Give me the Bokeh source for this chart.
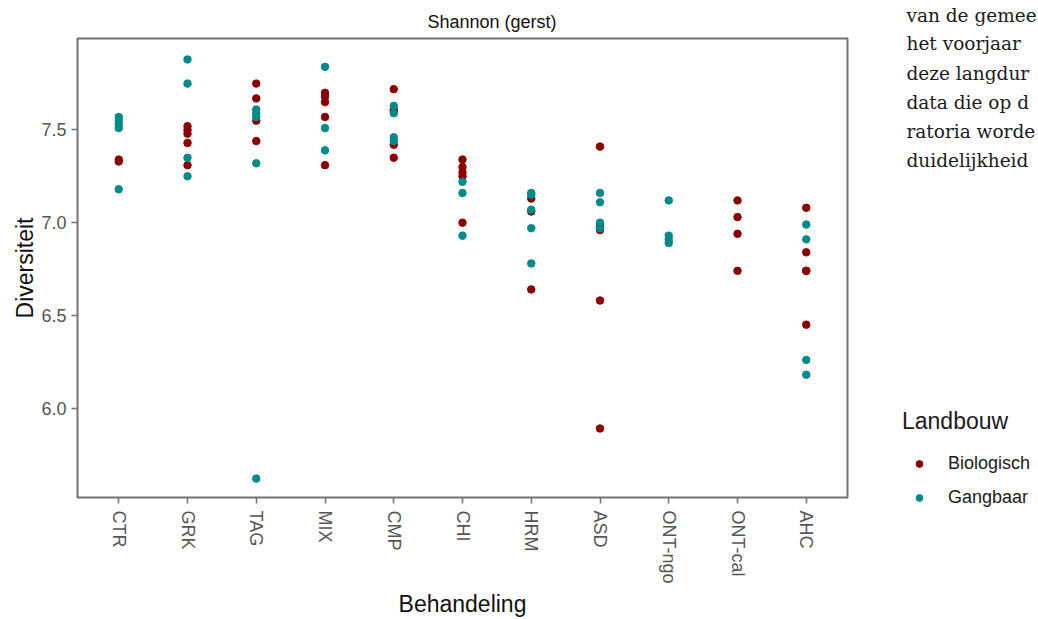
import math
from bokeh.plotting import figure
from bokeh.layouts import row
from bokeh.models import (FactorRange, Range1d, FixedTicker, Legend, LegendItem,
                          Label, CustomJSTickFormatter)
from bokeh.embed import file_html
from bokeh.resources import INLINE

# ---------------- data ----------------
categories = ["CTR", "GRK", "TAG", "MIX", "CMP", "CHI", "HRM", "ASD",
              "ONT-ngo", "ONT-cal", "AHC"]

bio_cat = (["CTR"] * 2 + ["GRK"] * 5 + ["TAG"] * 4 + ["MIX"] * 5 + ["CMP"] * 5 +
           ["CHI"] * 5 + ["HRM"] * 3 + ["ASD"] * 5 + ["ONT-cal"] * 4 + ["AHC"] * 5)
bio_val = [7.34, 7.33,
           7.52, 7.50, 7.48, 7.43, 7.31,
           7.75, 7.67, 7.55, 7.44,
           7.70, 7.68, 7.65, 7.57, 7.31,
           7.72, 7.61, 7.60, 7.42, 7.35,
           7.34, 7.30, 7.27, 7.25, 7.00,
           7.13, 7.06, 6.64,
           7.41, 6.98, 6.96, 6.58, 5.89,
           7.12, 7.03, 6.94, 6.74,
           7.08, 6.84, 6.74, 6.45, 6.74]

gang_cat = (["CTR"] * 5 + ["GRK"] * 4 + ["TAG"] * 5 + ["MIX"] * 3 + ["CMP"] * 4 +
            ["CHI"] * 3 + ["HRM"] * 5 + ["ASD"] * 4 + ["ONT-ngo"] * 4 + ["AHC"] * 4)
gang_val = [7.57, 7.55, 7.53, 7.51, 7.18,
            7.88, 7.75, 7.35, 7.25,
            7.61, 7.59, 7.57, 7.32, 5.62,
            7.84, 7.51, 7.39,
            7.63, 7.59, 7.46, 7.44,
            7.22, 7.16, 6.93,
            7.16, 7.15, 7.07, 6.97, 6.78,
            7.16, 7.11, 7.00, 6.97,
            7.12, 6.93, 6.91, 6.89,
            6.99, 6.91, 6.26, 6.18]

y_ticks = [6.0, 6.5, 7.0, 7.5]
series_names = ["Biologisch", "Gangbaar"]
series_colors = ["#8B0000", "#008B8B"]
legend_title = "Landbouw"

side_text = ["van de gemee", "het voorjaar", "deze langdur",
             "data die op d", "ratoria worde", "duidelijkheid"]

# ---------------- main figure ----------------
FONT = "Liberation Sans"
H = 619

p = figure(x_range=FactorRange(factors=categories, range_padding=0.1,
                               range_padding_units="absolute"),
           y_range=Range1d(5.518, 7.993),
           width=857, height=H, output_backend="svg", toolbar_location=None,
           min_border_left=77, min_border_right=10, min_border_top=38,
           min_border_bottom=H - 500)
p.frame_align = False

p.background_fill_color = "white"
p.border_fill_color = "white"
p.outline_line_color = "#737373"
p.outline_line_width = 2
p.xgrid.visible = False
p.ygrid.visible = False

p.title.text = "Shannon (gerst)"
p.title.align = "left"
p.title.offset = 350
p.title.text_font = FONT
p.title.text_font_size = "18px"
p.title.text_font_style = "normal"
p.title.text_color = "#111111"
p.title.standoff = 13

r1 = p.scatter(x=bio_cat, y=bio_val, size=7.5, color=series_colors[0])
r2 = p.scatter(x=gang_cat, y=gang_val, size=7.5, color=series_colors[1])

for ax in (p.xaxis[0], p.yaxis[0]):
    ax.axis_line_color = None
    ax.major_tick_line_color = "#737373"
    ax.major_tick_line_width = 1.5
    ax.major_tick_out = 6
    ax.major_tick_in = 0
    ax.minor_tick_line_color = None
    ax.major_label_text_font = FONT
    ax.major_label_text_font_size = "18px"
    ax.major_label_text_color = "#555555"
    ax.axis_label_text_font = FONT
    ax.axis_label_text_font_size = "23px"
    ax.axis_label_text_font_style = "normal"
    ax.axis_label_text_color = "#111111"

p.xaxis[0].axis_label = "Behandeling"
p.xaxis[0].major_label_orientation = -math.pi / 2
p.xaxis[0].major_label_standoff = 7
p.xaxis[0].axis_label_standoff = 4

p.yaxis[0].axis_label = "Diversiteit"
p.yaxis[0].ticker = FixedTicker(ticks=y_ticks)
p.yaxis[0].formatter = CustomJSTickFormatter(code="return tick.toFixed(1);")
p.yaxis[0].major_label_standoff = 5
p.yaxis[0].axis_label_standoff = 0

# ---------------- side panel (legend + surrounding page text) ----------------
SW = 1038 - 857
side = figure(width=SW, height=H, output_backend="svg", toolbar_location=None,
              x_range=Range1d(0, SW), y_range=Range1d(0, H),
              x_axis_type=None, y_axis_type=None, min_border=0)
side.frame_align = False
side.outline_line_color = None
side.xgrid.visible = False
side.ygrid.visible = False
side.background_fill_color = "white"
side.border_fill_color = "white"

# invisible stand-ins (outside the view) that give the legend its swatches
d1 = side.scatter(x=[-100], y=[-100], size=7.5, color=series_colors[0])
d2 = side.scatter(x=[-100], y=[-100], size=7.5, color=series_colors[1])

legend = Legend(items=[LegendItem(label=series_names[0], renderers=[d1]),
                       LegendItem(label=series_names[1], renderers=[d2])],
                title=legend_title, location=(45, 111))
legend.title_text_font = FONT
legend.title_text_font_size = "23px"
legend.title_text_font_style = "normal"
legend.title_text_color = "#1a1a1a"
legend.label_text_font = FONT
legend.label_text_font_size = "18px"
legend.label_text_color = "#1a1a1a"
legend.border_line_color = None
legend.background_fill_alpha = 0
legend.glyph_width = 34
legend.glyph_height = 17
legend.label_height = 17
legend.label_standoff = 12
legend.spacing = 13
legend.padding = 0
legend.margin = 0
legend.title_standoff = 18
side.add_layout(legend)

baselines = [15, 43, 73, 102, 131, 160]
for txt, yb in zip(side_text, baselines):
    side.add_layout(Label(x=49, y=H - yb, text=txt, text_font="DejaVu Serif",
                          text_font_size="18.5px", text_color="#1a1a1a",
                          text_baseline="alphabetic"))

layout = row(p, side, spacing=0)
open("out.html", "w").write(file_html(layout, INLINE))
